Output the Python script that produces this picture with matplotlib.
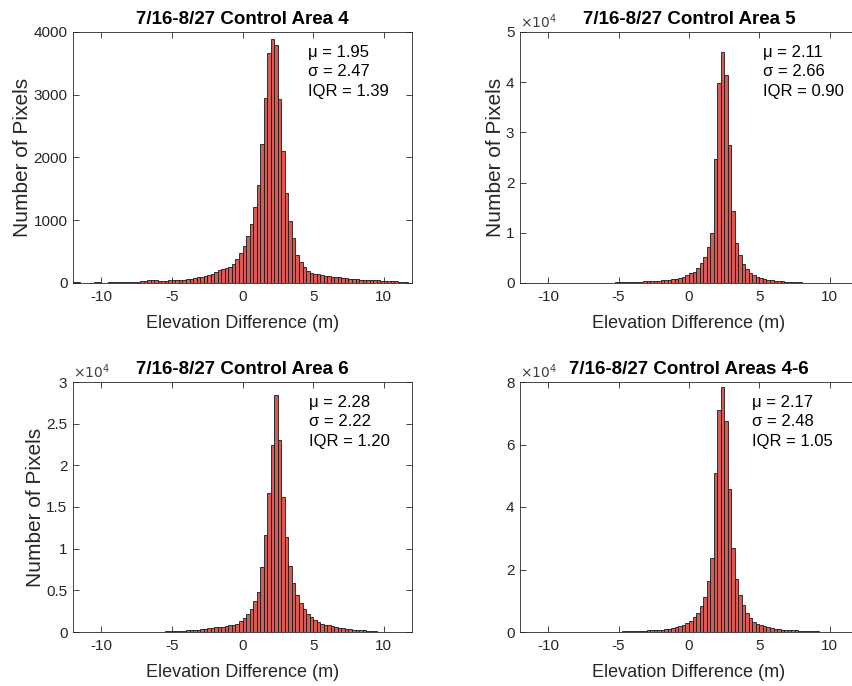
import numpy as np
import matplotlib
matplotlib.use("Agg")
import matplotlib.pyplot as plt

plt.rcParams['font.family'] = ['Liberation Sans', 'DejaVu Sans']

# bin width and per-panel histogram counts
bin_width = 0.25

area4_start = -12.0
area4_counts = [15, 10, 0, 0, 0, 0, 10, 20, 5, 0, 10, 12, 15, 15, 15, 18, 20, 20,
                22, 25, 30, 40, 48,
                45, 38, 35, 37, 40,
                45, 50, 53, 55, 58, 62,
                75, 90, 96, 107,
                122, 149, 176, 213, 229, 240, 256, 309, 389, 485,
                586, 746, 937, 1204, 1560, 2216, 2945, 3665, 3888, 3787, 2935,
                2109, 1427, 985, 724, 453, 336, 256, 192, 160, 149, 138,
                125, 117, 107, 100, 96, 88, 80, 75, 70, 64, 58, 53, 50, 48, 45,
                43, 40, 37, 34, 30, 27, 25, 20, 15, 12]

area5_start = -5.25
area5_counts = [0.01, 0.01, 0.015, 0.015, 0.02, 0.02, 0.02, 0.025, 0.03, 0.03, 0.035,
                0.04, 0.04, 0.05, 0.05, 0.06, 0.07, 0.08, 0.10, 0.12, 0.15,
                0.19, 0.22, 0.29, 0.39, 0.52, 0.72, 1.0, 2.48, 3.98, 4.6, 4.15,
                2.75, 1.43, 0.79, 0.55, 0.37, 0.27, 0.2, 0.15, 0.12, 0.1, 0.08,
                0.06, 0.05, 0.04, 0.035, 0.03, 0.025, 0.02, 0.015, 0.01, 0.01, 0.005]

area6_start = -5.5
area6_counts = [0.008, 0.01, 0.01, 0.012, 0.015, 0.015, 0.02, 0.02, 0.025, 0.03, 0.035,
                0.04, 0.045, 0.05, 0.055, 0.06, 0.065, 0.07, 0.08, 0.09, 0.10, 0.13,
                0.17, 0.22, 0.28, 0.37, 0.48, 0.78, 1.17, 1.67, 2.25, 2.84,
                2.3, 1.62, 1.14, 0.79, 0.59, 0.45, 0.35, 0.28, 0.22, 0.18, 0.15,
                0.12, 0.1, 0.09, 0.08, 0.07, 0.06, 0.05, 0.045, 0.04, 0.035, 0.03,
                0.025, 0.02, 0.02, 0.015, 0.015, 0.01]

all_start = -5.75
all_counts = [0.01, 0.01, 0.015, 0.015, 0.02, 0.02, 0.025, 0.03, 0.03, 0.04, 0.04,
              0.05, 0.05, 0.06, 0.07, 0.08, 0.09, 0.11, 0.13, 0.16, 0.18, 0.23, 0.29,
              0.36, 0.48, 0.61, 0.84, 1.12, 1.62, 2.37, 5.09, 7.09, 7.83,
              6.75, 4.58, 2.69, 1.71, 1.19, 0.87, 0.61, 0.45, 0.31, 0.27, 0.21,
              0.18, 0.15, 0.12, 0.10, 0.09, 0.07, 0.07, 0.06, 0.06, 0.05, 0.04,
              0.04, 0.03, 0.03, 0.02, 0.02, 0.015, 0.01, 0.01]

titles = ["7/16-8/27 Control Area 4", "7/16-8/27 Control Area 5",
          "7/16-8/27 Control Area 6", "7/16-8/27 Control Areas 4-6"]
stats = [("1.95", "2.47", "1.39"), ("2.11", "2.66", "0.90"),
         ("2.28", "2.22", "1.20"), ("2.17", "2.48", "1.05")]
y_ticks = [[0, 1000, 2000, 3000, 4000], [0, 1, 2, 3, 4, 5],
           [0, 0.5, 1, 1.5, 2, 2.5, 3], [0, 2, 4, 6, 8]]
y_scale = [1, 1e4, 1e4, 1e4]
x_ticks = [-10, -5, 0, 5, 10]

panels = [(area4_start, area4_counts), (area5_start, area5_counts),
          (area6_start, area6_counts), (all_start, all_counts)]

W, H = 852, 686
# axes boxes in pixels: left, top, right, bottom
boxes = [(73, 32, 412, 283), (520, 32, 858, 283),
         (73, 382, 412, 632), (520, 382, 858, 632)]
text_x = [0.693, 0.719, 0.695, 0.686]
ylabels = [True, True, True, False]

dark = '#262626'
fig = plt.figure(figsize=(W / 100, H / 100), dpi=100)

for i, (start, counts) in enumerate(panels):
    l, t, r, b = boxes[i]
    ax = fig.add_axes([l / W, 1 - b / H, (r - l) / W, (b - t) / H])
    counts = np.array(counts, dtype=float)
    heights = counts * y_scale[i]
    lefts = start + bin_width * np.arange(len(counts))
    ax.bar(lefts, heights, width=bin_width, align='edge', color='#d95a55',
           edgecolor='#1a1a1a', linewidth=0.6)

    ax.set_xlim(-12, 12)
    ax.set_ylim(0, y_ticks[i][-1] * y_scale[i])
    ax.set_xticks(x_ticks)
    ax.set_xticklabels([str(v) for v in x_ticks])
    ax.set_yticks([v * y_scale[i] for v in y_ticks[i]])
    ax.set_yticklabels(['%g' % v for v in y_ticks[i]])
    if y_scale[i] != 1:
        ax.text(0.0, 1.005, r'$\times10^{4}$', transform=ax.transAxes,
                ha='left', va='bottom', fontsize=10, color='#404040')

    ax.tick_params(direction='in', top=True, right=True, length=4, width=0.6,
                   colors=dark, labelsize=11, pad=5)
    ax.tick_params(axis='y', pad=4)
    for s in ax.spines.values():
        s.set_color(dark)
        s.set_linewidth(0.6)

    ax.set_title(titles[i], fontsize=13.5, fontweight='bold', color='black', pad=6)
    ax.set_xlabel("Elevation Difference (m)", fontsize=13, color=dark, labelpad=8)
    if ylabels[i]:
        ax.set_ylabel("Number of Pixels", fontsize=15, color=dark, labelpad=1)

    mu, sd, iqr = stats[i]
    ax.text(text_x[i], 0.95, "\u03bc = %s\n\u03c3 = %s\nIQR = %s" % (mu, sd, iqr),
            transform=ax.transAxes, ha='left', va='top', fontsize=12,
            color='black', linespacing=1.4)

fig.savefig("out.png", dpi=100)
